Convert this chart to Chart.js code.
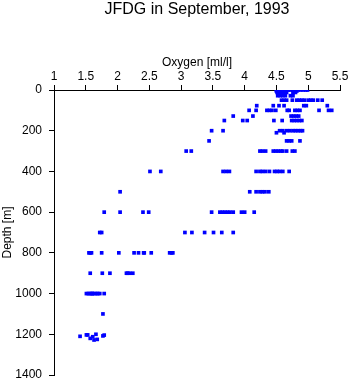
<!DOCTYPE html>
<html lang="en">
<head>
  <meta charset="UTF-8" />
  <title>JFDG oxygen profile</title>
  <script src="https://cdn.jsdelivr.net/npm/chart.js"></script>
  <style>
    html, body { margin: 0; padding: 0; background: #fff; }
    #wrap { width: 350px; height: 384px; }
  </style>
</head>
<body>
  <div id="wrap"><canvas id="profileChart" width="350" height="384"></canvas></div>

  <script>
// === Data: oxygen samples grouped by depth ===
const depthLevels = [0, 5, 12, 20, 28, 50, 77, 100, 128, 150, 200, 210, 250, 300, 400, 500, 600, 700, 800, 900, 1000, 1100];
const oxygenAtLevel = [
  [4.5, 4.52, 4.55, 4.58, 4.6, 4.63, 4.66, 4.69, 4.72, 4.76, 4.8, 4.84, 4.88, 4.92, 4.96, 4.99],
  [4.5, 4.53, 4.57, 4.6, 4.64, 4.78, 4.82],
  [4.51, 4.55, 4.59, 4.63, 4.66, 4.76, 4.8],
  [4.53, 4.57, 4.62],
  [4.52, 4.56, 4.6, 4.64, 4.72, 4.76],
  [4.58, 4.62, 4.66, 4.75, 4.82, 4.86, 4.9, 4.94, 5.0, 5.04, 5.08, 5.15, 5.22],
  [4.19, 4.45, 4.54, 4.62, 4.93, 4.97, 5.3],
  [4.07, 4.18, 4.35, 4.39, 4.43, 4.49, 4.67, 4.7, 4.79, 4.83, 4.87, 5.17, 5.32, 5.37],
  [3.82, 4.13, 4.73, 4.77, 4.81, 4.85],
  [3.68, 3.97, 4.04, 4.46, 4.59, 4.74, 4.78, 4.82, 4.86, 4.9],
  [3.48, 3.66, 4.55, 4.6, 4.66, 4.71, 4.76, 4.8, 4.84, 4.88, 4.91],
  [4.5, 4.62],
  [3.44, 4.66, 4.7, 4.74, 4.87],
  [3.08, 3.16, 4.24, 4.28, 4.33, 4.45, 4.49, 4.53, 4.57, 4.6, 4.66, 4.75, 4.79],
  [2.51, 2.68, 3.66, 3.71, 3.76, 4.18, 4.24, 4.28, 4.33, 4.39, 4.47, 4.51, 4.55, 4.6, 4.7],
  [2.04, 4.08, 4.18, 4.24, 4.28, 4.32, 4.38],
  [1.79, 2.04, 2.4, 2.49, 3.48, 3.61, 3.65, 3.69, 3.73, 3.77, 3.82, 3.95, 4.0, 4.15],
  [1.72, 1.75, 3.06, 3.17, 3.37, 3.51, 3.64, 3.82],
  [1.55, 1.57, 1.59, 1.75, 2.02, 2.26, 2.33, 2.41, 2.42, 2.53, 2.82, 2.85, 2.87],
  [1.57, 1.76, 1.88, 2.14, 2.16, 2.19, 2.24],
  [1.51, 1.54, 1.56, 1.59, 1.6, 1.61, 1.64, 1.67, 1.69, 1.72, 1.79],
  [1.77]
];
// deepest casts scatter a little in depth
const bottomOxygen = [1.41, 1.51, 1.53, 1.57, 1.61, 1.63, 1.66, 1.68, 1.77, 1.79];
const bottomDepth  = [1210, 1203, 1203, 1220, 1212, 1228, 1200, 1225, 1208, 1204];

const xTicks = [1, 1.5, 2, 2.5, 3, 3.5, 4, 4.5, 5, 5.5];
const yTicks = [0, 200, 400, 600, 800, 1000, 1200, 1400];

// === Build point list ===
const points = [];
depthLevels.forEach((d, i) => {
  oxygenAtLevel[i].forEach(o => points.push({ x: o, y: d }));
});
bottomOxygen.forEach((o, i) => points.push({ x: o, y: bottomDepth[i] }));

const FONT = "'Liberation Sans', Arial, Helvetica, sans-serif";

// title centred over the plot area
const plotTitle = {
  id: "plotTitle",
  afterDraw(chart) {
    const ctx = chart.ctx;
    const a = chart.chartArea;
    ctx.save();
    ctx.fillStyle = "#000";
    ctx.font = "16px " + FONT;
    ctx.textAlign = "center";
    ctx.textBaseline = "alphabetic";
    ctx.fillText("JFDG in September, 1993", (a.left + a.right) / 2, 14);
    ctx.restore();
  }
};

const ctx = document.getElementById("profileChart").getContext("2d");
new Chart(ctx, {
  type: "scatter",
  data: {
    datasets: [{
      label: "Oxygen",
      data: points,
      backgroundColor: "#0000ff",
      borderColor: "#0000ff",
      borderWidth: 0,
      pointStyle: "rect",
      pointRadius: 2.6,
      pointHoverRadius: 2.6
    }]
  },
  options: {
    responsive: false,
    animation: false,
    layout: { padding: { top: 41, right: 10, bottom: 9, left: 0 } },
    plugins: {
      legend: { display: false },
      title: { display: false },
      tooltip: { enabled: false }
    },
    scales: {
      x: {
        type: "linear",
        position: "top",
        min: 1,
        max: 5.5,
        afterBuildTicks: s => { s.ticks = xTicks.map(v => ({ value: v })); },
        afterFit: s => { s.height = 49; s.paddingLeft = 0; s.paddingRight = 0; },
        ticks: {
          autoSkip: false,
          maxRotation: 0,
          padding: 1,
          color: "#000",
          font: { family: FONT, size: 12 },
          callback: v => String(v)
        },
        grid: { drawOnChartArea: false, drawTicks: true, tickLength: 5, color: "#000" },
        border: { display: true, color: "#000", width: 1 },
        title: {
          display: true,
          text: "Oxygen [ml/l]",
          color: "#000",
          font: { family: FONT, size: 12 },
          padding: { top: 14, bottom: 0 }
        }
      },
      y: {
        type: "linear",
        reverse: true,
        min: 0,
        max: 1400,
        afterBuildTicks: s => { s.ticks = yTicks.map(v => ({ value: v })); },
        afterFit: s => { s.width = 54; s.paddingTop = 0; s.paddingBottom = 0; },
        ticks: {
          autoSkip: false,
          padding: 7,
          color: "#000",
          font: { family: FONT, size: 12 },
          callback: v => String(v)
        },
        grid: { drawOnChartArea: false, drawTicks: true, tickLength: 5, color: "#000" },
        border: { display: true, color: "#000", width: 1 },
        title: {
          display: true,
          text: "Depth [m]",
          color: "#000",
          font: { family: FONT, size: 12 },
          padding: { top: 0, bottom: 0 }
        }
      }
    }
  },
  plugins: [plotTitle]
});
  </script>
</body>
</html>
